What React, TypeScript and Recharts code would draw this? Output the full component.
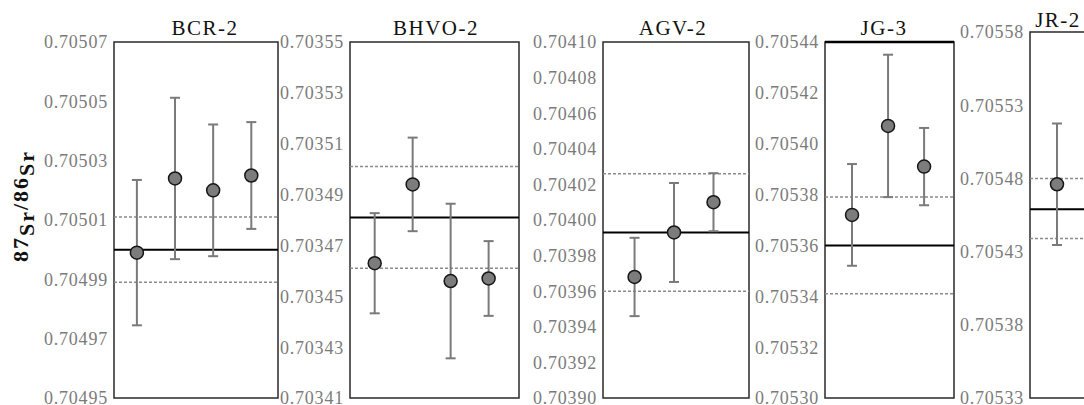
import React from "react";
import { ScatterChart, Scatter, XAxis, YAxis, ErrorBar, ReferenceLine, ReferenceArea } from "recharts";

const FONT = "Liberation Serif";
const AXIS_W = 76;
const H = 405;
const BOTTOM = 398;

// 87Sr/86Sr measurements, 2SD error, reference value [low, mean, high]
const bcrValues = [0.704999, 0.705024, 0.70502, 0.705025];
const bcrErrors = [0.0000245, 0.0000272, 0.0000222, 0.000018];
const bcrReference = [0.704989, 0.705, 0.705011];
const bcrTicks = [0.70495, 0.70497, 0.70499, 0.70501, 0.70503, 0.70505, 0.70507];

const bhvoValues = [0.703463, 0.703494, 0.703456, 0.703457];
const bhvoErrors = [0.0000197, 0.0000184, 0.0000304, 0.0000147];
const bhvoReference = [0.703461, 0.703481, 0.703501];
const bhvoTicks = [0.70341, 0.70343, 0.70345, 0.70347, 0.70349, 0.70351, 0.70353, 0.70355];

const agvValues = [0.703968, 0.703993, 0.70401];
const agvErrors = [0.000022, 0.0000278, 0.0000163];
const agvReference = [0.70396, 0.703993, 0.704026];
const agvTicks = [0.7039, 0.70392, 0.70394, 0.70396, 0.70398, 0.704, 0.70402, 0.70404, 0.70406, 0.70408, 0.7041];

const jg3Values = [0.705372, 0.705407, 0.705391];
const jg3Errors = [0.00002, 0.000028, 0.0000152];
const jg3Reference = [0.705341, 0.70536, 0.705379];
const jg3Ticks = [0.7053, 0.70532, 0.70534, 0.70536, 0.70538, 0.7054, 0.70542, 0.70544];

const jr2Values = [0.705476];
const jr2Errors = [0.0000415];
const jr2Reference = [0.705439, 0.705459, 0.70548];
const jr2Ticks = [0.70533, 0.70538, 0.70543, 0.70548, 0.70553, 0.70558];

const Dot = (p: any) => (
  <circle cx={p.cx} cy={p.cy} r={6.5} fill="#7c7c7c" stroke="#161616" strokeWidth={1.5} />
);

type PanelProps = {
  values: number[];
  errors: number[];
  reference: number[];
  ticks: number[];
  left: number;
  right: number;
  top: number;
  xDomain: [number, number];
  boldTop?: boolean;
};

function Panel({ values, errors, reference, ticks, left, right, top, xDomain, boldTop }: PanelProps) {
  const data = values.map((y, i) => ({ x: i + 1, y, err: errors[i] }));
  const yDomain: [number, number] = [ticks[0], ticks[ticks.length - 1]];
  const w = AXIS_W + right - left + 4;
  return (
    <div style={{ position: "absolute", left: left - AXIS_W, top: 0 }}>
      <ScatterChart width={w} height={H} margin={{ top, right: 4, bottom: H - BOTTOM, left: 0 }}>
        <XAxis type="number" dataKey="x" domain={xDomain} hide allowDataOverflow />
        <YAxis
          type="number"
          dataKey="y"
          domain={yDomain}
          ticks={ticks}
          interval={0}
          width={AXIS_W}
          axisLine={false}
          tickLine={false}
          tickSize={4}
          tickMargin={2}
          allowDataOverflow
          tick={{ fontSize: 18, fill: "#7b7b7b", fontFamily: FONT, letterSpacing: 0.8 }}
          tickFormatter={(v: number) => v.toFixed(5)}
        />
        <ReferenceLine y={reference[0]} stroke="#8a8a8a" strokeWidth={1.5} strokeDasharray="3 2" />
        <ReferenceLine y={reference[2]} stroke="#8a8a8a" strokeWidth={1.5} strokeDasharray="3 2" />
        <ReferenceLine y={reference[1]} stroke="#000" strokeWidth={2} />
        <ReferenceArea
          x1={xDomain[0]}
          x2={xDomain[1]}
          y1={yDomain[0]}
          y2={yDomain[1]}
          fill="none"
          fillOpacity={0}
          stroke="#2a2a2a"
          strokeWidth={1.5}
          ifOverflow="visible"
        />
        {boldTop && <ReferenceLine y={yDomain[1]} stroke="#000" strokeWidth={2.5} />}
        <Scatter data={data} shape={Dot} isAnimationActive={false}>
          <ErrorBar dataKey="err" direction="y" width={5} stroke="#7a7a7a" strokeWidth={2} />
        </Scatter>
      </ScatterChart>
    </div>
  );
}

const titles = [
  { text: "BCR-2", x: 205, y: 35 },
  { text: "BHVO-2", x: 436, y: 35 },
  { text: "AGV-2", x: 673, y: 35 },
  { text: "JG-3", x: 884, y: 35 },
  { text: "JR-2", x: 1058, y: 27 },
];

export default function App() {
  return (
    <div style={{ position: "absolute", left: 0, top: 0, width: 1084, height: H, overflow: "hidden", background: "#fff", fontFamily: FONT }}>
      <Panel values={bcrValues} errors={bcrErrors} reference={bcrReference} ticks={bcrTicks} left={114} right={278} top={42} xDomain={[0.4, 4.7]} />
      <Panel values={bhvoValues} errors={bhvoErrors} reference={bhvoReference} ticks={bhvoTicks} left={350} right={519} top={42} xDomain={[0.35, 4.8]} />
      <Panel values={agvValues} errors={agvErrors} reference={agvReference} ticks={agvTicks} left={603} right={749} top={42} xDomain={[0.2, 3.9]} />
      <Panel values={jg3Values} errors={jg3Errors} reference={jg3Reference} ticks={jg3Ticks} left={825} right={954} top={42} xDomain={[0.25, 3.83]} boldTop />
      <Panel values={jr2Values} errors={jr2Errors} reference={jr2Reference} ticks={jr2Ticks} left={1030} right={1160} top={32} xDomain={[0.25, 3.86]} />
      <svg width={1084} height={H} style={{ position: "absolute", left: 0, top: 0, pointerEvents: "none" }}>
        {titles.map((t) => (
          <text key={t.text} x={t.x} y={t.y} textAnchor="middle" fontFamily={FONT} fontSize={21} letterSpacing={1.5} fill="#111">
            {t.text}
          </text>
        ))}
        <text transform="translate(28,206) rotate(-90)" textAnchor="middle" fontFamily={FONT} fontWeight="bold" fontSize={22} letterSpacing={2} fill="#111">
          87
          <tspan dy={6}>Sr</tspan>
          <tspan dy={-6}>/86</tspan>
          <tspan dy={6}>Sr</tspan>
        </text>
      </svg>
    </div>
  );
}
